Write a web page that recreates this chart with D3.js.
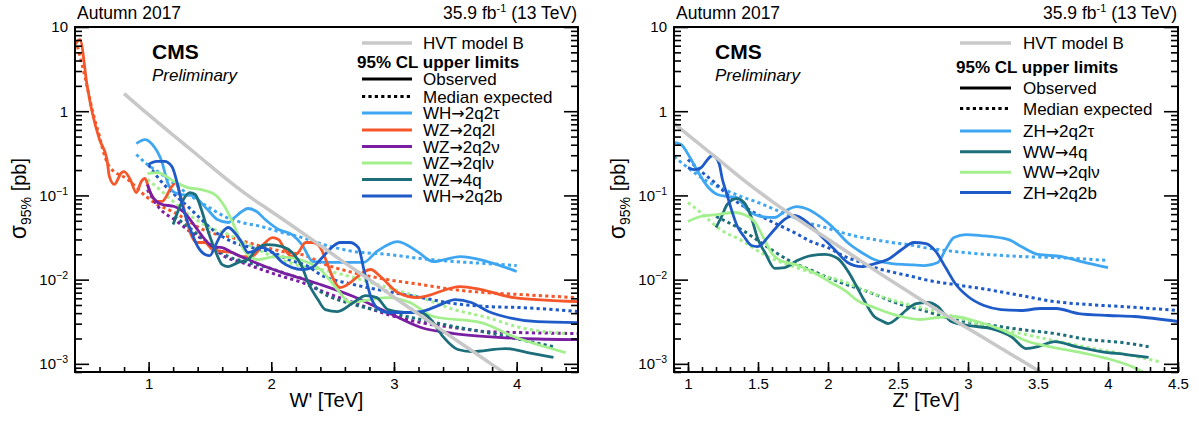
<!DOCTYPE html>
<html><head><meta charset="utf-8">
<script src="https://cdn.jsdelivr.net/npm/d3@7"></script>
<style>
body{margin:0;background:#fff}
svg{display:block}
text{font-family:"Liberation Sans",Arial,Helvetica,sans-serif;fill:#000}
</style>
</head><body>
<svg id="chart" width="1199" height="424"></svg>
<script>
// ---------------- DATA (mass in TeV, cross section in pb) ----------------
const hvtW = [[0.8,1.62],[1.0,0.91],[1.2,0.52],[1.4,0.30],[1.6,0.172],[1.8,0.102],[2.0,0.0645],[2.2,0.0407],[2.4,0.0254],[2.6,0.0158],[2.8,0.0100],[3.0,0.00617],[3.2,0.00389],[3.4,0.00245],[3.6,0.00155],[3.8,0.00098],[4.0,0.00062]];

const wh2q2tauObs = [[0.90,0.413],[0.97,0.461],[1.03,0.403],[1.11,0.246],[1.155,0.142],[1.21,0.108],[1.27,0.1025],[1.35,0.0998],[1.48,0.068],[1.56,0.0518],[1.65,0.0477],[1.70,0.0547],[1.76,0.0644],[1.81,0.0699],[1.88,0.0644],[1.95,0.0518],[2.06,0.0394],[2.17,0.0343],[2.25,0.0261],[2.34,0.0164],[2.54,0.0160],[2.75,0.0160],[2.86,0.0216],[3.03,0.0283],[3.19,0.0216],[3.32,0.0164],[3.54,0.0188],[3.76,0.0164],[4.0,0.0125]];
const wh2q2tauExp = [[0.90,0.306],[0.99,0.233],[1.11,0.177],[1.35,0.097],[1.48,0.0738],[1.62,0.0562],[1.76,0.0477],[1.92,0.0427],[2.09,0.0362],[2.25,0.0316],[2.41,0.0265],[2.67,0.0216],[2.95,0.0199],[3.22,0.0178],[3.49,0.0164],[3.76,0.0155],[4.0,0.0147]];

const wz2q2lObs = [[0.40,6.2],[0.44,7.1],[0.50,1.96],[0.54,0.97],[0.60,0.46],[0.66,0.27],[0.68,0.168],[0.72,0.135],[0.78,0.187],[0.80,0.192],[0.85,0.155],[0.90,0.108],[0.94,0.146],[0.97,0.159],[1.01,0.111],[1.07,0.085],[1.11,0.085],[1.19,0.128],[1.23,0.1425],[1.25,0.111],[1.29,0.068],[1.34,0.036],[1.39,0.0276],[1.46,0.0276],[1.52,0.0228],[1.60,0.0216],[1.68,0.021],[1.76,0.0188],[1.84,0.0188],[1.92,0.0247],[2.01,0.0316],[2.06,0.0299],[2.11,0.0228],[2.17,0.0188],[2.22,0.021],[2.28,0.0276],[2.34,0.0276],[2.38,0.0261],[2.56,0.00805],[2.81,0.0132],[2.89,0.0109],[3.03,0.00703],[3.19,0.00612],[3.54,0.00828],[3.71,0.00762],[3.98,0.00612],[4.5,0.00549]];
const wz2q2lExp = [[0.42,5.9],[0.48,2.6],[0.54,1.05],[0.56,0.80],[0.60,0.50],[0.62,0.38],[0.68,0.22],[0.83,0.155],[0.98,0.097],[1.07,0.078],[1.21,0.063],[1.34,0.048],[1.48,0.037],[1.65,0.0325],[1.87,0.026],[2.09,0.0216],[2.30,0.0188],[2.40,0.016],[2.67,0.0121],[2.95,0.0100],[3.22,0.00875],[3.49,0.0076],[3.76,0.0070],[4.03,0.00665],[4.5,0.0061]];

const wz2q2nuObs = [[0.99,0.135],[1.03,0.097],[1.11,0.078],[1.21,0.0738],[1.29,0.0627],[1.38,0.0427],[1.46,0.0299],[1.52,0.0247],[1.60,0.024],[1.68,0.021],[1.81,0.0173],[1.95,0.0143],[2.09,0.0121],[2.25,0.0103],[2.40,0.00875],[2.67,0.0063],[2.95,0.00407],[3.22,0.0027],[3.49,0.00229],[3.76,0.0021],[4.03,0.0020],[4.5,0.00194]];
const wz2q2nuExp = [[0.99,0.117],[1.09,0.070],[1.21,0.0518],[1.34,0.0372],[1.48,0.0276],[1.62,0.0188],[1.76,0.0160],[1.92,0.0132],[2.09,0.0109],[2.25,0.00925],[2.40,0.00743],[2.67,0.00535],[2.95,0.00385],[3.22,0.00309],[3.49,0.00269],[3.76,0.00241],[4.03,0.00235],[4.5,0.00229]];

const wz2qlnuObs = [[0.99,0.182],[1.07,0.187],[1.21,0.146],[1.32,0.124],[1.43,0.117],[1.54,0.1025],[1.62,0.0738],[1.70,0.0427],[1.785,0.0216],[1.89,0.0173],[2.03,0.0188],[2.15,0.0183],[2.30,0.0160],[2.40,0.0132],[2.54,0.0076],[2.64,0.00535],[2.81,0.0058],[2.95,0.00612],[3.13,0.00535],[3.32,0.00365],[3.71,0.00309],[3.98,0.0021],[4.40,0.00136]];
const wz2qlnuExp = [[0.99,0.155],[1.11,0.111],[1.21,0.0824],[1.35,0.0562],[1.48,0.0427],[1.65,0.0343],[1.81,0.0261],[2.03,0.0183],[2.30,0.0139],[2.40,0.0132],[2.67,0.0106],[2.95,0.00805],[3.22,0.00612],[3.49,0.00441],[3.76,0.00355],[4.03,0.0027],[4.40,0.00229]];

const wz4qObs = [[1.20,0.0451],[1.27,0.0824],[1.335,0.108],[1.38,0.1025],[1.43,0.068],[1.48,0.0394],[1.54,0.0228],[1.60,0.0151],[1.65,0.0143],[1.73,0.0160],[1.81,0.0173],[1.89,0.024],[1.97,0.0261],[2.09,0.0247],[2.17,0.021],[2.25,0.0143],[2.30,0.00925],[2.38,0.0058],[2.44,0.00441],[2.54,0.00418],[2.67,0.00535],[2.77,0.00647],[2.86,0.00612],[2.95,0.00441],[3.09,0.00407],[3.22,0.00407],[3.30,0.00336],[3.40,0.0021],[3.52,0.00148],[3.63,0.0014],[3.91,0.00152],[4.09,0.00136],[4.30,0.00119]];
const wz4qExp = [[1.21,0.0562],[1.35,0.0394],[1.48,0.0276],[1.65,0.0188],[1.81,0.0160],[1.97,0.0139],[2.14,0.0115],[2.30,0.0095],[2.40,0.00723],[2.67,0.00507],[2.95,0.00407],[3.22,0.00336],[3.49,0.00277],[3.76,0.00235],[4.03,0.00194],[4.30,0.0016]];

const wh2q2bObs = [[1.0,0.233],[1.065,0.253],[1.13,0.253],[1.19,0.220],[1.24,0.1276],[1.27,0.0824],[1.31,0.0518],[1.35,0.0363],[1.40,0.0247],[1.46,0.0199],[1.50,0.0193],[1.54,0.0247],[1.60,0.0363],[1.65,0.0416],[1.70,0.0363],[1.76,0.0276],[1.81,0.021],[1.87,0.0222],[1.92,0.024],[2.01,0.021],[2.09,0.016],[2.17,0.0139],[2.25,0.0132],[2.33,0.0139],[2.415,0.0183],[2.50,0.0247],[2.56,0.0276],[2.64,0.0276],[2.71,0.024],[2.76,0.0121],[2.81,0.0063],[2.86,0.00466],[2.95,0.00407],[3.08,0.00407],[3.22,0.00418],[3.36,0.00492],[3.50,0.0058],[3.63,0.00535],[3.77,0.00418],[3.93,0.00355],[4.17,0.00318],[4.5,0.00309]];
const wh2q2bExp = [[1.0,0.23],[1.11,0.142],[1.21,0.1025],[1.32,0.0738],[1.43,0.0518],[1.54,0.0372],[1.68,0.0283],[1.84,0.024],[2.01,0.021],[2.14,0.0173],[2.30,0.0143],[2.40,0.0115],[2.67,0.00875],[2.95,0.00723],[3.22,0.00612],[3.49,0.0052],[3.76,0.00479],[4.03,0.00466],[4.5,0.00418]];

const hvtZ = [[0.9,0.716],[1.0,0.525],[1.2,0.282],[1.4,0.151],[1.6,0.0851],[1.8,0.0501],[2.0,0.0302],[2.2,0.0182],[2.4,0.0110],[2.6,0.00676],[2.8,0.00417],[3.0,0.00263],[3.2,0.00166],[3.4,0.00105],[3.6,0.00066]];

const zh2q2tauObs = [[0.90,0.425],[0.95,0.402],[1.01,0.29],[1.07,0.192],[1.14,0.1276],[1.21,0.1025],[1.28,0.097],[1.35,0.0944],[1.42,0.068],[1.525,0.0562],[1.62,0.0547],[1.69,0.0644],[1.775,0.0738],[1.86,0.068],[1.95,0.0547],[2.05,0.0394],[2.14,0.0276],[2.24,0.021],[2.33,0.0173],[2.455,0.0155],[2.57,0.0151],[2.69,0.0147],[2.785,0.016],[2.84,0.0228],[2.90,0.0316],[2.985,0.0343],[3.09,0.0334],[3.29,0.0299],[3.38,0.0247],[3.50,0.0199],[3.67,0.0188],[3.81,0.0164],[4.0,0.0139]];
const zh2q2tauExp = [[0.90,0.29],[0.97,0.233],[1.045,0.187],[1.14,0.146],[1.26,0.117],[1.38,0.097],[1.50,0.0824],[1.62,0.068],[1.74,0.0562],[1.85,0.0477],[1.98,0.0416],[2.10,0.0362],[2.21,0.0325],[2.33,0.0299],[2.455,0.0276],[2.57,0.0261],[2.69,0.024],[2.90,0.0216],[3.14,0.0199],[3.38,0.0188],[3.62,0.0183],[4.0,0.0169]];

const ww4qObs = [[1.20,0.0416],[1.24,0.0562],[1.28,0.078],[1.35,0.0918],[1.40,0.0824],[1.45,0.0562],[1.50,0.0299],[1.55,0.021],[1.62,0.0136],[1.69,0.0139],[1.78,0.0169],[1.88,0.0193],[1.98,0.0199],[2.07,0.0178],[2.14,0.0128],[2.205,0.00828],[2.255,0.0058],[2.33,0.00365],[2.38,0.00327],[2.43,0.00301],[2.50,0.00355],[2.555,0.0043],[2.63,0.0052],[2.71,0.00535],[2.785,0.00479],[2.88,0.00318],[3.01,0.00284],[3.165,0.00262],[3.31,0.0021],[3.415,0.00152],[3.50,0.0016],[3.62,0.00184],[3.77,0.0016],[3.95,0.0014],[4.13,0.00129],[4.29,0.00119]];
const ww4qExp = [[1.20,0.0562],[1.38,0.0394],[1.52,0.0276],[1.71,0.0173],[1.90,0.0125],[2.09,0.00925],[2.28,0.00723],[2.52,0.00507],[2.66,0.00441],[2.90,0.00336],[3.14,0.00292],[3.38,0.00255],[3.62,0.00229],[3.86,0.00194],[4.10,0.00179],[4.29,0.0016]];

const ww2qlnuObs = [[1.0,0.049],[1.09,0.0562],[1.21,0.0593],[1.33,0.0627],[1.40,0.0593],[1.475,0.049],[1.546,0.0299],[1.60,0.0204],[1.66,0.0169],[1.77,0.0151],[1.90,0.0121],[2.02,0.00925],[2.13,0.00723],[2.20,0.0058],[2.33,0.00467],[2.52,0.00365],[2.66,0.00336],[2.785,0.00355],[2.90,0.00365],[3.04,0.00327],[3.24,0.00255],[3.43,0.00184],[3.615,0.00156],[3.81,0.00136],[4.0,0.00115],[4.19,0.0009],[4.27,0.00077]];
const ww2qlnuExp = [[1.0,0.0824],[1.09,0.0627],[1.23,0.0394],[1.37,0.0299],[1.57,0.0188],[1.75,0.0143],[1.93,0.0115],[2.09,0.00977],[2.28,0.00723],[2.52,0.00535],[2.66,0.00467],[2.90,0.00365],[3.14,0.00277],[3.38,0.00229],[3.615,0.00189],[3.86,0.00156],[4.10,0.00132],[4.37,0.00106]];

const zh2q2bObs = [[1.0,0.215],[1.045,0.203],[1.095,0.215],[1.14,0.267],[1.175,0.298],[1.20,0.282],[1.224,0.233],[1.246,0.1545],[1.274,0.1083],[1.31,0.068],[1.353,0.0427],[1.40,0.0325],[1.453,0.0254],[1.496,0.0247],[1.525,0.0261],[1.568,0.0316],[1.618,0.0394],[1.69,0.0518],[1.76,0.0578],[1.854,0.0477],[1.954,0.0325],[2.047,0.0228],[2.14,0.016],[2.24,0.0143],[2.334,0.0155],[2.426,0.0173],[2.527,0.0228],[2.612,0.0276],[2.70,0.0268],[2.77,0.0216],[2.84,0.0139],[2.914,0.00875],[3.0,0.0063],[3.114,0.00492],[3.236,0.00441],[3.38,0.0043],[3.52,0.00454],[3.63,0.00454],[3.79,0.00395],[4.0,0.00375],[4.19,0.00365],[4.5,0.00318]];
const zh2q2bExp = [[1.0,0.267],[1.095,0.192],[1.19,0.142],[1.28,0.1025],[1.40,0.0738],[1.525,0.0562],[1.64,0.0451],[1.76,0.0362],[1.88,0.0283],[2.0,0.024],[2.12,0.0188],[2.24,0.016],[2.355,0.0136],[2.476,0.0121],[2.60,0.0109],[2.69,0.0100],[2.90,0.00875],[3.14,0.00762],[3.38,0.00647],[3.615,0.0055],[3.86,0.00506],[4.10,0.00479],[4.5,0.0043]];

const leftLabels = ["WH\u21922q2\u03c4","WZ\u21922q2l","WZ\u21922q2\u03bd","WZ\u21922ql\u03bd","WZ\u21924q","WH\u21922q2b"];
const rightLabels = ["ZH\u21922q2\u03c4","WW\u21924q","WW\u21922ql\u03bd","ZH\u21922q2b"];
const yTickValues = [0.001,0.01,0.1,1,10];
const leftXTickLabels = [1,2,3,4];
const rightXTickLabels = [1,1.5,2,2.5,3,3.5,4,4.5];

// ---------------- STYLE / LAYOUT ----------------
const C = {lblue:"#3fa6f2", orange:"#f5572a", purple:"#7b1fa2", lgreen:"#a3ef8e", teal:"#1b6e7a", blue:"#1f5bc8", grey:"#c8c8c8"};
const leftSeries = [
  {label:leftLabels[0], color:C.lblue, obs:wh2q2tauObs, exp:wh2q2tauExp},
  {label:leftLabels[1], color:C.orange, obs:wz2q2lObs, exp:wz2q2lExp},
  {label:leftLabels[2], color:C.purple, obs:wz2q2nuObs, exp:wz2q2nuExp},
  {label:leftLabels[3], color:C.lgreen, obs:wz2qlnuObs, exp:wz2qlnuExp},
  {label:leftLabels[4], color:C.teal, obs:wz4qObs, exp:wz4qExp},
  {label:leftLabels[5], color:C.blue, obs:wh2q2bObs, exp:wh2q2bExp}
];
const rightSeries = [
  {label:rightLabels[0], color:C.lblue, obs:zh2q2tauObs, exp:zh2q2tauExp},
  {label:rightLabels[1], color:C.teal, obs:ww4qObs, exp:ww4qExp},
  {label:rightLabels[2], color:C.lgreen, obs:ww2qlnuObs, exp:ww2qlnuExp},
  {label:rightLabels[3], color:C.blue, obs:zh2q2bObs, exp:zh2q2bExp}
];

const panels = [
  {id:"L", x0:75, x1:578, xdom:[0.4,4.5], minorStep:0.2, majors:leftXTickLabels, xTitle:"W' [TeV]",
   hvt:hvtW, series:leftSeries,
   leg:{lx0:362, lx1:412, tx:423, hx:357, hvtY:43, headY:62, obsY:79, expY:96.5, rows:[113,130,146.5,163,179.5,196]}},
  {id:"R", x0:674, x1:1178, xdom:[0.9,4.5], minorStep:0.1, majors:rightXTickLabels, xTitle:"Z' [TeV]",
   hvt:hvtZ, series:rightSeries,
   leg:{lx0:960, lx1:1011, tx:1023, hx:956, hvtY:43, headY:67, obsY:88, expY:108.5, rows:[131,151.7,172.3,192.5]}}
];
const yTop = 27, yBot = 372;
const DASH = "3.2 3.2";

const svg = d3.select("#chart");
const defs = svg.append("defs");

function supLabel(sel, v){
  sel.text(null);
  if (v === 10) { sel.text("10"); return; }
  if (v === 1) { sel.text("1"); return; }
  const e = Math.round(Math.log10(v));
  sel.append("tspan").text("10");
  sel.append("tspan").attr("font-size", 10.5).attr("dy", -6).text("\u2212" + Math.abs(e));
}

panels.forEach(p => {
  const x = d3.scaleLinear().domain(p.xdom).range([p.x0, p.x1]);
  const y = d3.scaleLog().domain([8e-4, 10]).range([yBot, yTop]);
  const g = svg.append("g");

  defs.append("clipPath").attr("id", "clip" + p.id)
    .append("rect").attr("x", p.x0).attr("y", yTop).attr("width", p.x1 - p.x0).attr("height", yBot - yTop);

  const line = d3.line().x(d => x(d[0])).y(d => y(d[1])).curve(d3.curveMonotoneX);
  const plot = g.append("g").attr("clip-path", `url(#clip${p.id})`);

  p.series.forEach(s => {
    plot.append("path").attr("d", line(s.exp)).attr("fill", "none")
      .attr("stroke", s.color).attr("stroke-width", 3).attr("stroke-dasharray", DASH);
  });
  p.series.forEach(s => {
    plot.append("path").attr("d", line(s.obs)).attr("fill", "none")
      .attr("stroke", s.color).attr("stroke-width", 2.8).attr("stroke-linejoin", "round");
  });
  plot.append("path").attr("d", line(p.hvt)).attr("fill", "none")
    .attr("stroke", C.grey).attr("stroke-width", 3.5);

  // Axes
  const minors = d3.range(p.xdom[0], p.xdom[1] + 1e-6, p.minorStep).map(v => +v.toFixed(2));
  const xMinor = d3.axisBottom(x).tickValues(minors).tickSizeInner(-5).tickSizeOuter(0).tickFormat("");
  const xMajor = d3.axisBottom(x).tickValues(p.majors).tickSizeInner(-10).tickSizeOuter(0).tickPadding(6).tickFormat(d3.format("~g"));
  const gxm = g.append("g").attr("transform", `translate(0,${yBot})`).call(xMinor);
  const gxM = g.append("g").attr("transform", `translate(0,${yBot})`).call(xMajor);
  [gxm, gxM].forEach(a => { a.select(".domain").remove(); a.selectAll("line").attr("stroke", "#000").attr("stroke-width", 1.6); });
  gxM.selectAll("text").attr("font-size", 15).attr("font-family", "Liberation Sans, Arial, sans-serif").attr("fill", "#000");

  const yMinorVals = [];
  [-4,-3,-2,-1,0].forEach(e => { for (let m = 2; m <= 9; m++) { const v = m * Math.pow(10, e); if (v >= 8e-4 && v < 10) yMinorVals.push(v); } });
  const yMinor = d3.axisLeft(y).tickValues(yMinorVals).tickSizeInner(-7).tickSizeOuter(0).tickFormat("");
  const yMajor = d3.axisLeft(y).tickValues(yTickValues).tickSizeInner(-14).tickSizeOuter(0).tickPadding(7).tickFormat("");
  const yMinorR = d3.axisRight(y).tickValues(yMinorVals).tickSizeInner(-7).tickSizeOuter(0).tickFormat("");
  const yMajorR = d3.axisRight(y).tickValues(yTickValues).tickSizeInner(-14).tickSizeOuter(0).tickFormat("");
  const gy = [
    g.append("g").attr("transform", `translate(${p.x0},0)`).call(yMinor),
    g.append("g").attr("transform", `translate(${p.x0},0)`).call(yMajor),
    g.append("g").attr("transform", `translate(${p.x1},0)`).call(yMinorR),
    g.append("g").attr("transform", `translate(${p.x1},0)`).call(yMajorR)
  ];
  gy.forEach(a => { a.select(".domain").remove(); a.selectAll("line").attr("stroke", "#000").attr("stroke-width", 1.6); });
  gy[1].selectAll("text").attr("font-size", 15).attr("font-family", "Liberation Sans, Arial, sans-serif").attr("fill", "#000")
    .each(function(v){ supLabel(d3.select(this), v); });
  gy[2].selectAll("text").remove(); gy[3].selectAll("text").remove();

  // Frame
  g.append("rect").attr("x", p.x0).attr("y", yTop).attr("width", p.x1 - p.x0).attr("height", yBot - yTop)
    .attr("fill", "none").attr("stroke", "#000").attr("stroke-width", 2);

  // Header texts
  g.append("text").attr("x", p.x0 + 2).attr("y", 19).attr("font-size", 17.5).text("Autumn 2017");
  const lumi = g.append("text").attr("x", p.x1 - 1).attr("y", 19).attr("font-size", 17.5).attr("text-anchor", "end");
  lumi.append("tspan").text("35.9 fb");
  lumi.append("tspan").attr("font-size", 11).attr("dy", -7).text("-1");
  lumi.append("tspan").attr("dy", 7).text(" (13 TeV)");

  const cmsX = p.id === "L" ? 152 : 715;
  g.append("text").attr("x", cmsX).attr("y", 59).attr("font-size", 21).attr("font-weight", "bold").text("CMS");
  g.append("text").attr("x", cmsX).attr("y", 81).attr("font-size", 17).attr("font-style", "italic").text("Preliminary");

  // Axis titles
  g.append("text").attr("x", (p.x0 + p.x1) / 2).attr("y", 407).attr("font-size", 20).attr("text-anchor", "middle").text(p.xTitle);
  const yt = g.append("text").attr("transform", `translate(${p.x0 - 49},158) rotate(-90)`).attr("text-anchor", "end").attr("font-size", 20);
  yt.append("tspan").attr("font-size", 23).text("\u03c3");
  yt.append("tspan").attr("font-size", 14).attr("dy", 5).text("95%");
  yt.append("tspan").attr("dy", -5).text(" [pb]");

  // Legend
  const L = p.leg, fs = 17, off = 6;
  const legLine = (yy, color, dashed, w) => g.append("line").attr("x1", L.lx0).attr("x2", L.lx1).attr("y1", yy).attr("y2", yy)
    .attr("stroke", color).attr("stroke-width", w).attr("stroke-dasharray", dashed ? DASH : null);
  const legText = (yy, t) => {
    const tx = g.append("text").attr("x", L.tx).attr("y", yy + off).attr("font-size", fs);
    const parts = t.split("\u2192");
    tx.append("tspan").text(parts[0]);
    if (parts.length > 1) {
      tx.append("tspan").attr("font-family", "DejaVu Sans").attr("font-size", 16).text("\u2192");
      tx.append("tspan").text(parts[1]);
    }
    return tx;
  };
  legLine(L.hvtY, C.grey, false, 3.5); legText(L.hvtY, "HVT model B");
  g.append("text").attr("x", L.hx).attr("y", L.headY + off).attr("font-size", 17).attr("font-weight", "bold").text("95% CL upper limits");
  legLine(L.obsY, "#000", false, 2.8); legText(L.obsY, "Observed");
  legLine(L.expY, "#000", true, 3); legText(L.expY, "Median expected");
  p.series.forEach((s, i) => { legLine(L.rows[i], s.color, false, 3); legText(L.rows[i], s.label); });
});
</script>
</body></html>
